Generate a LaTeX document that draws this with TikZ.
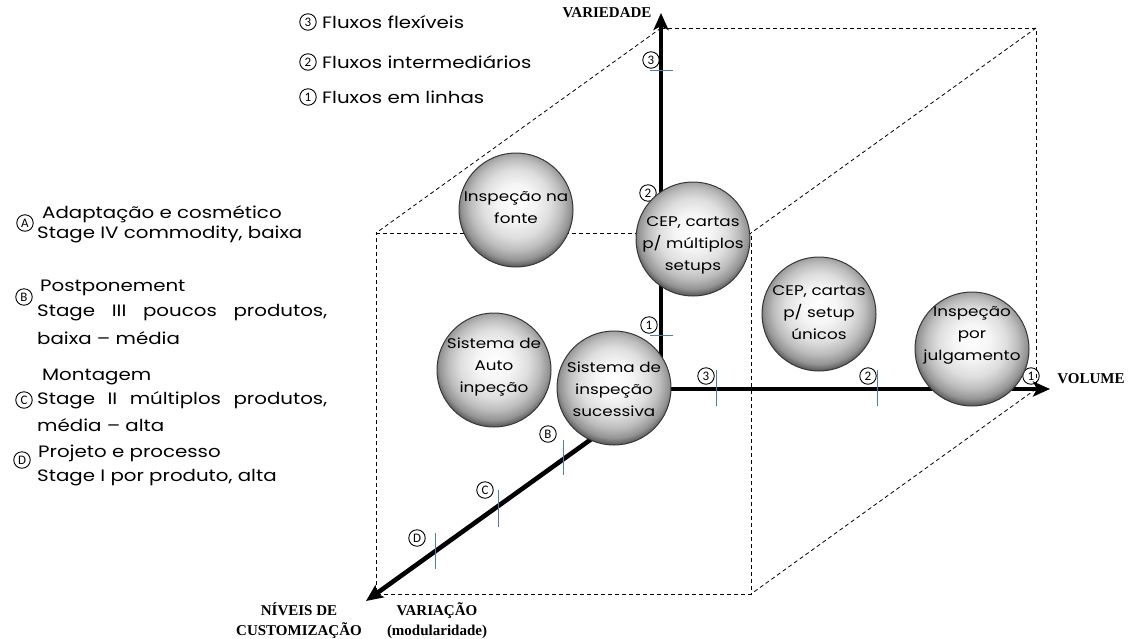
\documentclass[tikz,border=0pt]{standalone}
\usepackage{fontspec}
\setmainfont{Liberation Serif}
\newfontfamily\handfont[FakeStretch=1.2]{Poppins}
\newfontfamily\numfont{Carlito}
\usetikzlibrary{arrows.meta}

% glossy grey ball: bright spot near the top, darker rim
\pgfdeclareradialshading{glassball}{\pgfqpoint{0bp}{4bp}}{%
  color(0bp)=(white);
  color(8bp)=(white!96!black);
  color(15bp)=(black!13);
  color(20bp)=(black!26);
  color(24bp)=(black!42);
  color(27bp)=(black!68);
  color(50bp)=(black!68)}

\definecolor{tickblue}{RGB}{74,126,187}

\tikzset{
  cubeedge/.style={draw=black, line width=0.8pt, dash pattern=on 4pt off 3pt},
  axisline/.style={line width=4.6pt, -{Stealth[length=17pt,width=15pt,inset=4pt]}},
  tickmark/.style={draw=tickblue, line width=1pt},
  numcircle/.style={circle, draw=black, line width=0.9pt, inner sep=0pt,
    minimum size=16.5pt, font=\numfont\fontsize{13}{13}\selectfont},
  sphere/.style={circle, minimum size=114pt, inner sep=0pt, shading=glassball,
    draw=black!78, line width=1pt},
  spheretext/.style={align=center, font=\handfont\fontsize{14}{22}\selectfont},
  axislabel/.style={font=\bfseries\fontsize{15}{20}\selectfont, align=center},
  legend/.style={anchor=west, inner sep=0pt, font=\handfont\fontsize{16.5}{18}\selectfont},
}

\begin{document}
\begin{tikzpicture}[x=1pt, y=-1pt]
\useasboundingbox (0,0) rectangle (1132,638);

% ---- cube corners ----
\coordinate (O)   at (661,389);
\coordinate (BTL) at (661,28);
\coordinate (BTR) at (1036,28);
\coordinate (BBR) at (1036,389);
\coordinate (FTL) at (376,233);
\coordinate (FTR) at (751,233);
\coordinate (FBL) at (376,594);
\coordinate (FBR) at (751,594);

% ---- dashed cube ----
\draw[cubeedge] (BTL) -- (BTR) -- (BBR);
\draw[cubeedge] (FTL) -- (FTR) -- (FBR) -- (FBL) -- cycle;
\draw[cubeedge] (BTL) -- (FTL);
\draw[cubeedge] (BTR) -- (FTR);
\draw[cubeedge] (BBR) -- (FBR);

% ---- axes ----
\coordinate (Vtip) at (661,13);
\coordinate (Htip) at (1050,389);
\coordinate (Dtip) at (366,601);
\draw[axisline] (O) -- (Vtip);
\draw[axisline] (O) -- (Htip);
\draw[axisline] (O) -- (Dtip);

% ---- tick marks ----
\draw[tickmark] (650,70) -- (673,70);
\draw[tickmark] (650,335) -- (673,335);
\draw[tickmark] (716,370) -- (716,406);
\draw[tickmark] (877,370) -- (877,406);
\draw[tickmark] (563,440) -- (563,475);
\draw[tickmark] (498,490) -- (498,527);
\draw[tickmark] (435,533) -- (435,569);

% ---- tick labels ----
\node[numcircle] (v3) at (651,60)  {3};
\node[numcircle] (v2) at (648,193) {2};
\node[numcircle] (v1) at (649,325) {1};
\node[numcircle] (h3) at (706,376) {3};
\node[numcircle] (h2) at (868,376) {2};
\node[numcircle] (h1) at (1031,376) {1};
\node[numcircle] (dB) at (548,434) {B};
\node[numcircle] (dC) at (485,490) {C};
\node[numcircle] (dD) at (417,538) {D};

% ---- axis labels ----
\node[axislabel] (variedade) at (607,13) {VARIEDADE};
\node[axislabel] (volume) at (1091,379) {VOLUME};
\node[axislabel] (niveis) at (299,621) {NÍVEIS DE\\CUSTOMIZAÇÃO};
\node[axislabel] (variacao) at (437,621) {VARIAÇÃO\\(modularidade)};

% ---- spheres ----
\node[sphere] (s1) at (516,210) {};
\node[spheretext] (s1t) at (516,208) {Inspeção na\\fonte};
\node[sphere] (s2) at (693,239) {};
\node[spheretext] (s2t) at (693,245) {CEP, cartas\\p/ múltiplos\\setups};
\node[sphere] (s3) at (494,370) {};
\node[spheretext] (s3t) at (494,367) {Sistema de\\Auto\\inpeção};
\node[sphere] (s4) at (614,388) {};
\node[spheretext] (s4t) at (614,389) {Sistema de\\inspeção\\sucessiva};
\node[sphere] (s5) at (819,314) {};
\node[spheretext] (s5t) at (819,313) {CEP, cartas\\p/ setup\\únicos};
\node[sphere] (s6) at (972,349) {};
\node[spheretext] (s6t) at (972,335) {Inspeção\\por\\julgamento};

% ---- flow legend ----
\node[numcircle] (l3) at (308,22) {3};
\node[legend] (l3t) at (322,22) {Fluxos flexíveis};
\node[numcircle] (l2) at (308,62) {2};
\node[legend] (l2t) at (322,62) {Fluxos intermediários};
\node[numcircle] (l1) at (308,97) {1};
\node[legend] (l1t) at (322,97) {Fluxos em linhas};

% ---- customization legend ----
\node[numcircle] (lA) at (25,223) {A};
\node[legend] (lA1) at (42,214) {Adaptação e cosmético};
\node[legend] (lA2) at (37,234) {Stage IV commodity, baixa};
\node[numcircle] (lB) at (24,297) {B};
\node[legend] (lB1) at (40,288) {Postponement};
\node[legend] (lB2) at (37,313) {\makebox[290pt][s]{Stage III poucos produtos,}};
\node[legend] (lB3) at (37,338) {baixa – média};
\node[legend] (lC1) at (42,377) {Montagem};
\node[numcircle] (lC) at (24,400) {C};
\node[legend] (lC2) at (37,400) {\makebox[290pt][s]{Stage II múltiplos produtos,}};
\node[legend] (lC3) at (37,425) {média – alta};
\node[numcircle] (lD) at (22,460) {D};
\node[legend] (lD1) at (38,453) {Projeto e processo};
\node[legend] (lD2) at (37,478) {Stage I por produto, alta};
\end{tikzpicture}
\end{document}
